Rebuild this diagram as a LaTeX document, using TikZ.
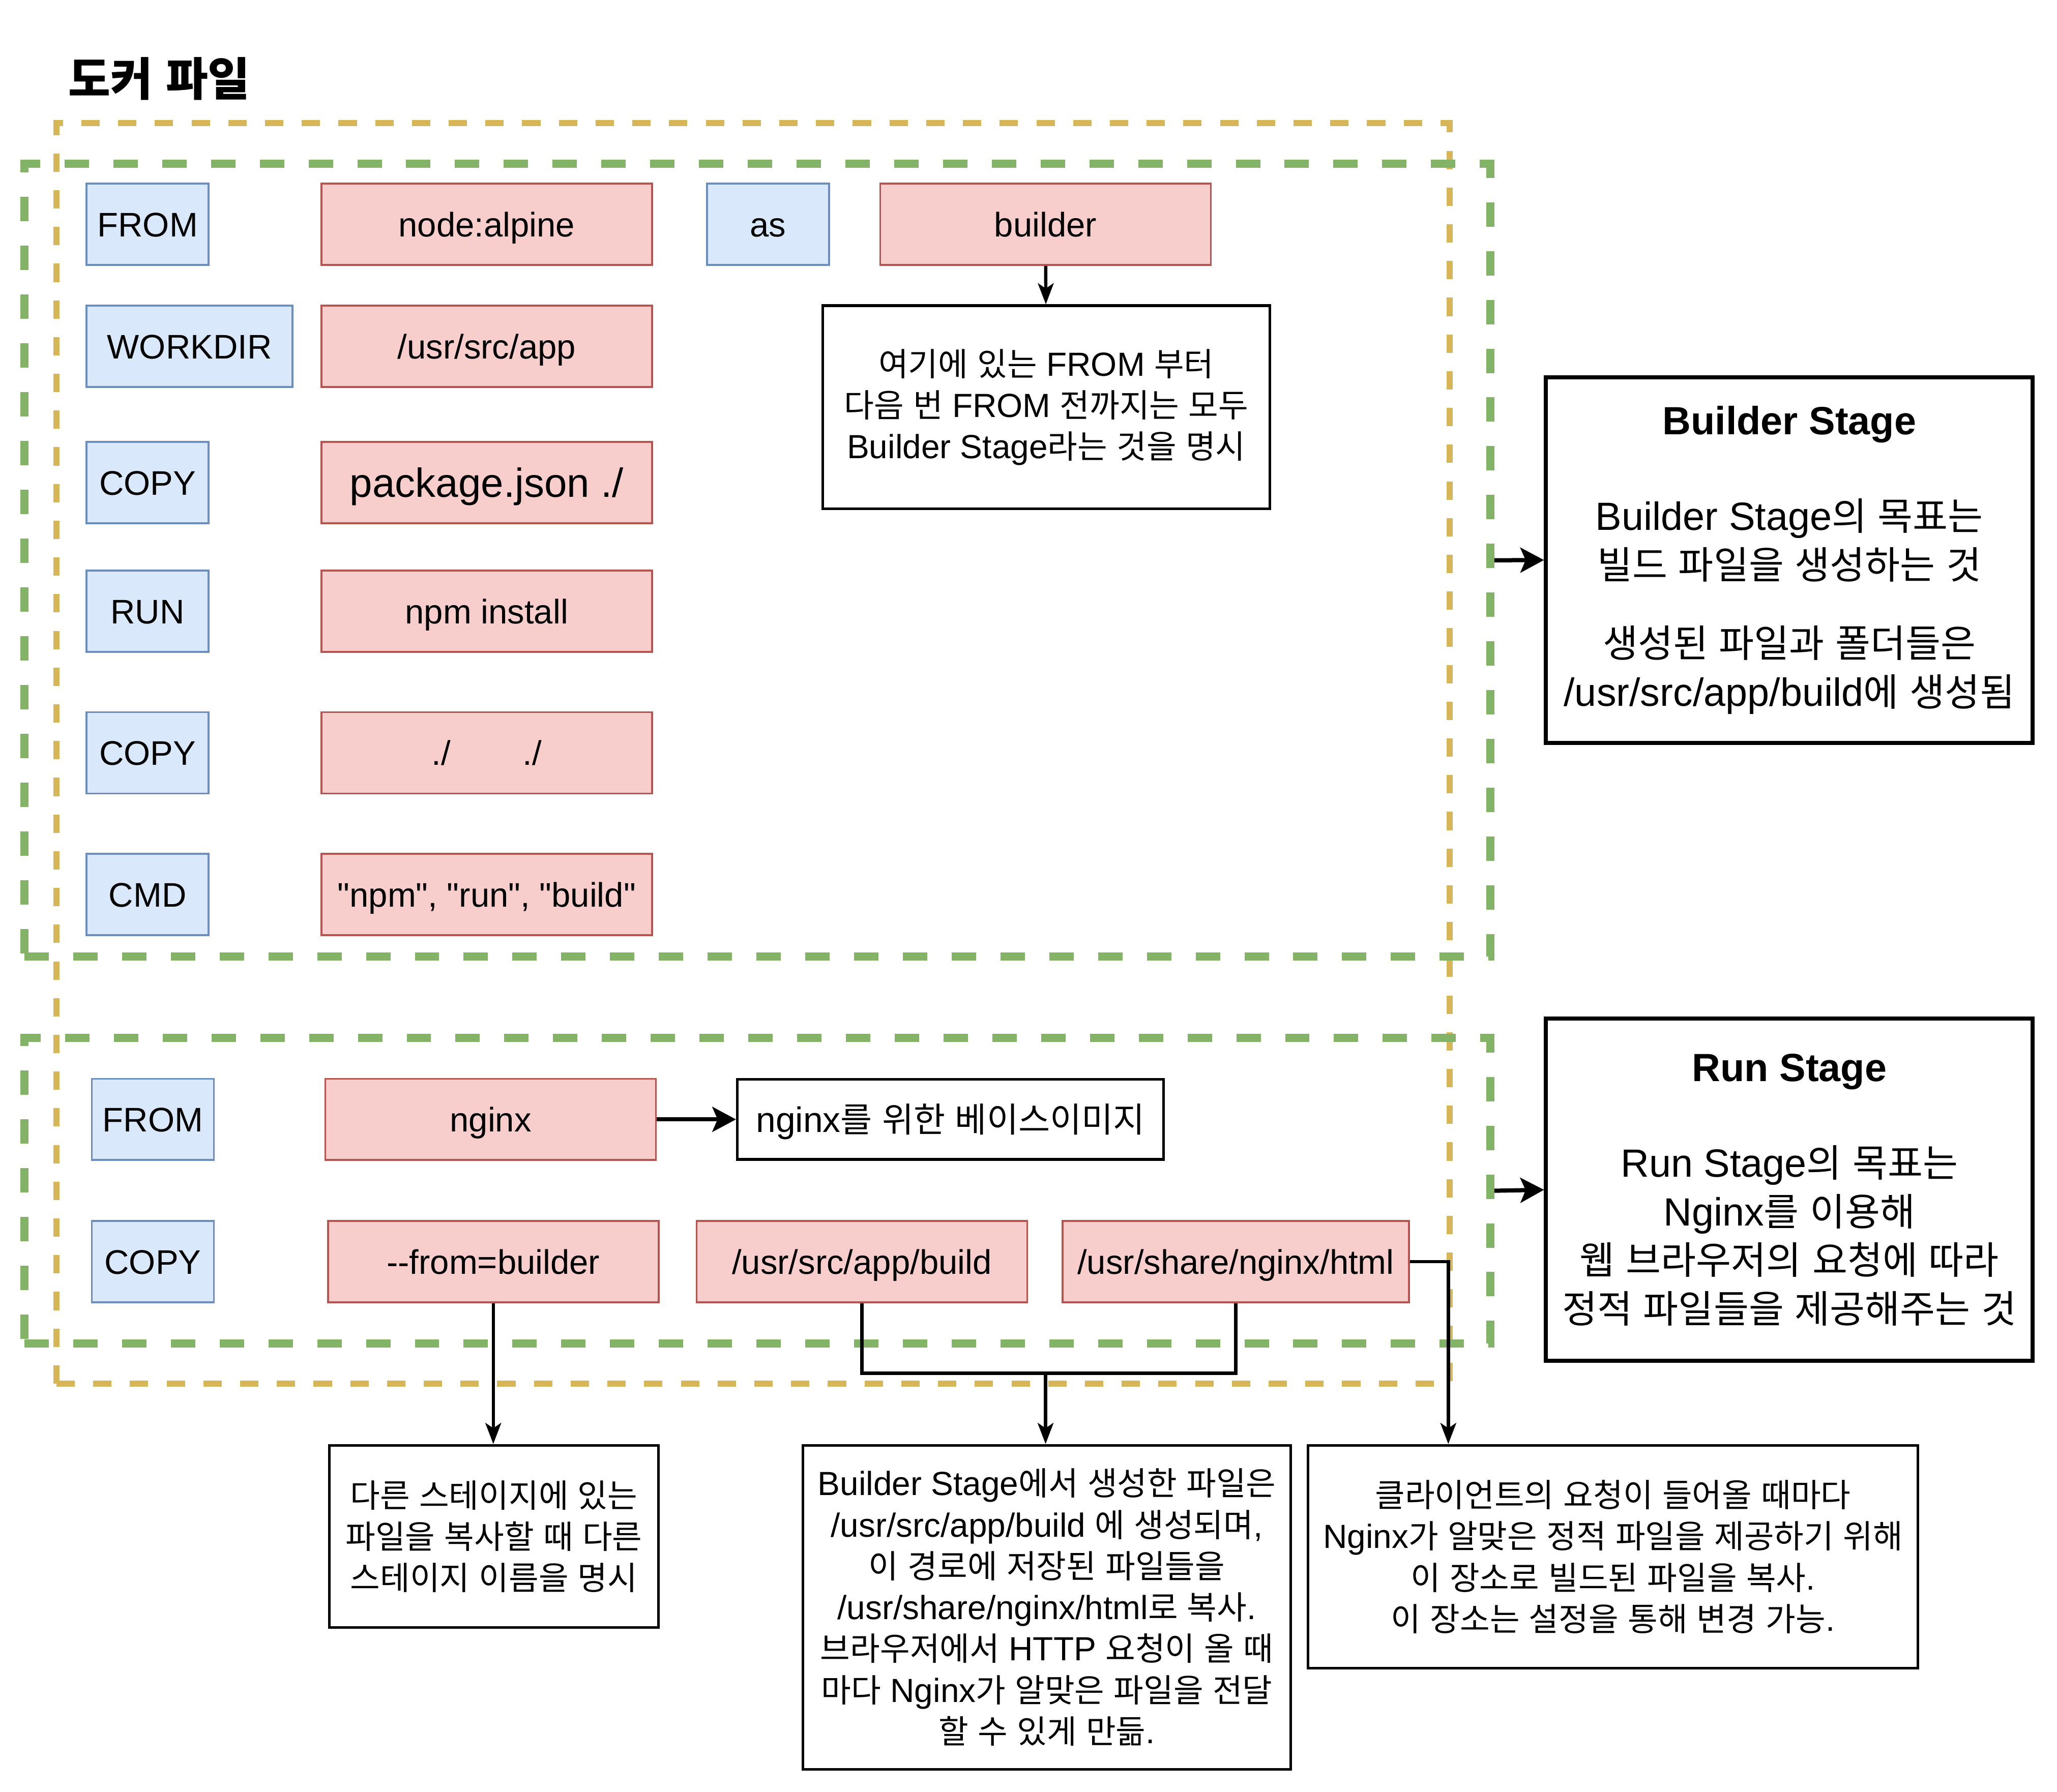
\documentclass[tikz,border=0pt]{standalone}
\usepackage{fontspec}
\newfontfamily\latinfont{Liberation Sans}
\newfontfamily\krfont{Noto Sans CJK KR}[Scale=0.97]
\usepackage{xcolor}
\usepackage{tikz}
\usetikzlibrary{positioning,arrows.meta}

% Hangul switches to the Korean family
\XeTeXinterchartokenstate=1
\chardef\hangulclass=7
\newcount\hgcode
\hgcode="AC00
\loop
  \XeTeXcharclass\hgcode=\hangulclass
  \advance\hgcode by 1
\ifnum\hgcode<"D7A4 \repeat
\XeTeXinterchartoks 0 \hangulclass = {\begingroup\krfont}
\XeTeXinterchartoks 4095 \hangulclass = {\begingroup\krfont}
\XeTeXinterchartoks \hangulclass 0 = {\endgroup}
\XeTeXinterchartoks \hangulclass 4095 = {\endgroup}

\newcommand\setfs[2]{\latinfont\fontsize{#1}{#2}\selectfont}

\definecolor{cmdfill}{HTML}{DAE8FC}
\definecolor{cmdline}{HTML}{6C8EBF}
\definecolor{argfill}{HTML}{F8CECC}
\definecolor{argline}{HTML}{B85450}
\definecolor{stagegreen}{HTML}{82B366}
\definecolor{fileyellow}{HTML}{D6B656}

\begin{document}
\begin{tikzpicture}[x=1pt, y=-1pt,
  cmdbox/.style={draw=cmdline, fill=cmdfill, line width=1.4pt, minimum width=93pt,
                 minimum height=62pt, inner sep=0pt, font=\setfs{26}{31},
                 text height=19pt, text depth=0pt},
  argbox/.style={cmdbox, draw=argline, fill=argfill, minimum width=252pt},
  notebox/.style={draw, line width=2pt, fill=white, align=center, inner sep=0pt,
                  font=\setfs{25.5}{31.5}},
  stagebox/.style={draw, line width=3.1pt, fill=white, align=center, inner sep=0pt,
                   minimum width=371pt, font=\setfs{30}{37}},
  stageframe/.style={draw=stagegreen, line width=6.2pt, dash pattern=on 18.6pt off 18.6pt,
                     inner sep=0pt, minimum width=1117.4pt},
  fileframe/.style={draw=fileyellow, line width=4.65pt, dash pattern=on 14pt off 14pt,
                    inner sep=0pt},
  link/.style={line width=2.5pt},
  arr/.style={link, -{Stealth[length=16pt, width=12pt, inset=4pt]}},
  bigarr/.style={line width=3.2pt, -{Stealth[length=18pt, width=19pt, inset=4pt]}}
]
\fill[white] (0,0) rectangle (1568,1366);
\useasboundingbox (0,0) rectangle (1568,1366);

%% --- Title ---
\node[anchor=west, inner sep=0pt, font=\setfs{36}{43}\bfseries] (title) at (52,60) {도커 파일};

%% --- Dashed frames ---
\node[fileframe, minimum width=1062pt, minimum height=961pt] (fileF) at (574,574.5) {};
\node[stageframe, minimum height=604.4pt] (frameB) at (577.3,427.2) {};
\node[stageframe, minimum height=232.8pt] (frameR) at (577.3,907.9) {};

%% --- Builder stage instructions ---
\node[cmdbox] (fromB) at (112.5,171) {FROM};
\node[argbox] (imgB) at (371,171) {node:alpine};
\node[cmdbox] (asB) at (585.5,171) {as};
\node[argbox] (aliasB) at (797,171) {builder};
\node[cmdbox, minimum width=157pt] (workdirB) at (144.5,264) {WORKDIR};
\node[argbox] (dirB) at (371,264) {/usr/src/app};
\node[cmdbox] (copyB1) at (112.5,368) {COPY};
\node[argbox, font=\setfs{31}{37}, text height=22pt] (pkgB) at (371,368) {package.json ./};
\node[cmdbox] (runB) at (112.5,466) {RUN};
\node[argbox] (npmB) at (371,466) {npm install};
\node[cmdbox] (copyB2) at (112.5,574) {COPY};
\node[argbox] (dotsB) at (371,574) {./\hspace{55pt}./};
\node[cmdbox] (cmdB) at (112.5,682) {CMD};
\node[argbox] (buildB) at (371,682) {"npm", "run", "build"};

\node[notebox, minimum width=341pt, minimum height=155pt] (noteB) at (797.5,310.5)
  {여기에 있는 FROM 부터\\다음 번 FROM 전까지는 모두\\Builder Stage라는 것을 명시};
\draw[arr] (aliasB) -- (noteB);

%% --- Run stage instructions ---
\node[cmdbox] (fromR) at (116.5,853.5) {FROM};
\node[argbox] (imgR) at (374,853.5) {nginx};
\node[notebox, minimum width=325pt, minimum height=61pt, font=\setfs{27}{32},
      text height=19.5pt, text depth=0pt] (noteImg) at (724.5,853.5) {nginx를 위한 베이스이미지};
\draw[bigarr] (imgR) -- (noteImg);

\node[cmdbox] (copyR) at (116.5,962) {COPY};
\node[argbox] (flagR) at (376,962) {--from=builder};
\node[argbox] (srcR) at (657,962) {/usr/src/app/build};
\node[argbox, minimum width=264pt] (dstR) at (942,962) {/usr/share/nginx/html};

%% --- Notes below ---
\node[notebox, minimum width=251pt, minimum height=139pt] (noteFlag) at (376.5,1171.5)
  {다른 스테이지에 있는\\파일을 복사할 때 다른\\스테이지 이름을 명시};
\node[notebox, minimum width=372pt, minimum height=247pt] (noteSrc) at (798,1225.5)
  {Builder Stage에서 생성한 파일은\\/usr/src/app/build 에 생성되며,\\이 경로에 저장된 파일들을\\
   /usr/share/nginx/html로 복사.\\브라우저에서 HTTP 요청이 올 때\\마다 Nginx가 알맞은 파일을 전달\\할 수 있게 만듦.};
\node[notebox, minimum width=465pt, minimum height=170pt] (noteDst) at (1229.5,1187)
  {클라이언트의 요청이 들어올 때마다\\Nginx가 알맞은 정적 파일을 제공하기 위해\\이 장소로 빌드된 파일을 복사.\\이 장소는 설정을 통해 변경 가능.};

\coordinate (joinpt) at (797,1047);
\coordinate (dstturn) at (1104,962);
\draw[arr] (flagR.south) -- (flagR.south |- noteFlag.north);
\draw[link] (srcR.south) |- (joinpt) -| (dstR.south);
\draw[arr] (joinpt) -- (joinpt |- noteSrc.north);
\draw[arr] (dstR.east) -- (dstturn) -- (dstturn |- noteDst.north);

%% --- Stage descriptions ---
\node[stagebox, minimum height=279pt] (stageB) at (1364,427)
  {{\bfseries Builder Stage}\\[36pt]Builder Stage의 목표는\\빌드 파일을 생성하는 것\\[23pt]생성된 파일과 폴더들은\\/usr/src/app/build에 생성됨};
\node[stagebox, minimum height=261pt] (stageR) at (1364,907.2)
  {{\bfseries Run Stage}\\[36pt]Run Stage의 목표는\\Nginx를 이용해\\웹 브라우저의 요청에 따라\\정적 파일들을 제공해주는 것};
\draw[bigarr] (frameB.east) -- (stageB.west);
\draw[bigarr] (frameR.east) -- (stageR.west);
\end{tikzpicture}
\end{document}
